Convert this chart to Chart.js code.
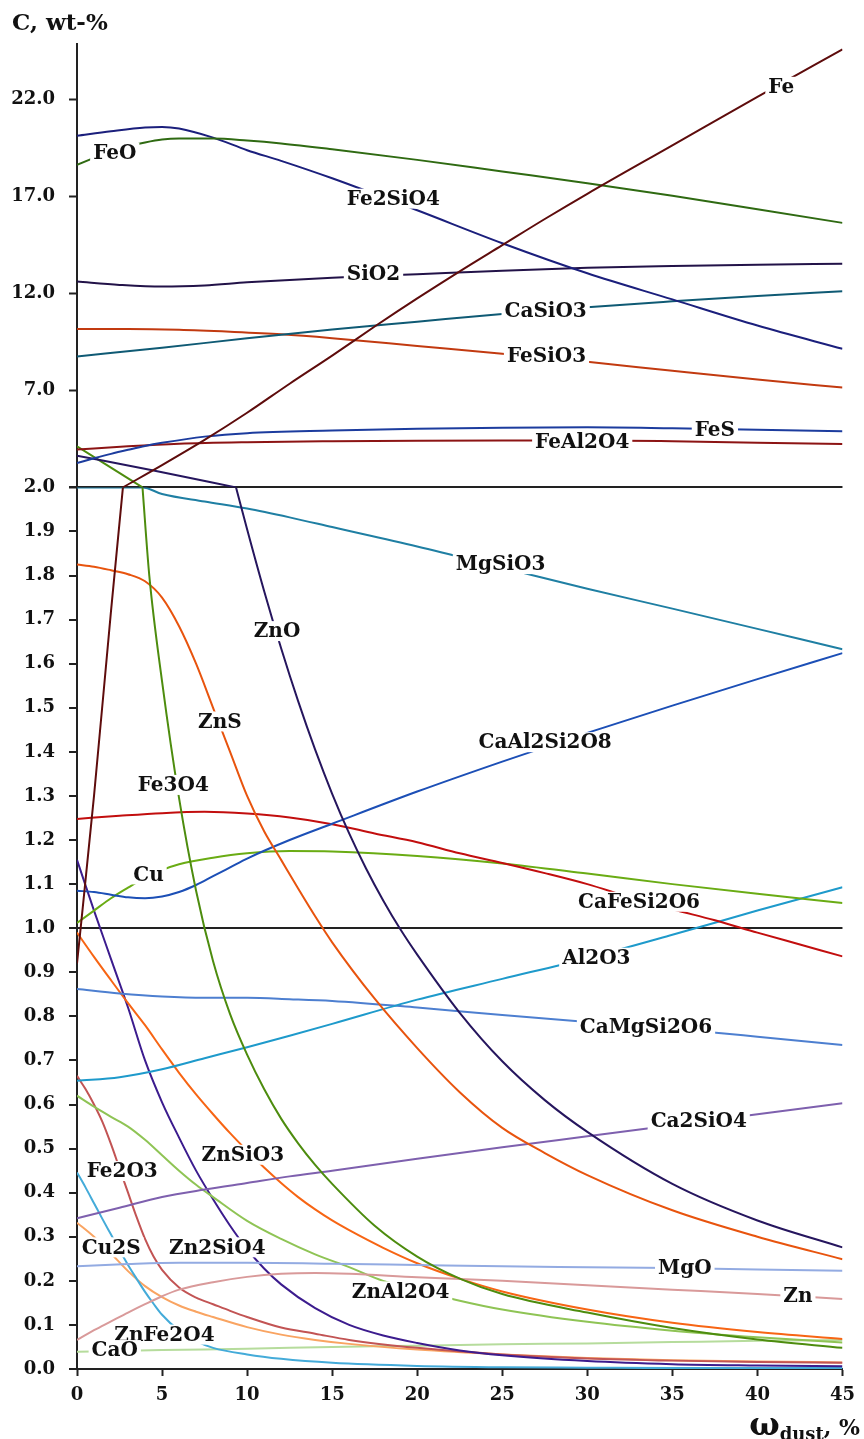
<!DOCTYPE html>
<html>
<head>
<meta charset="utf-8">
<script src="https://cdn.jsdelivr.net/npm/chart.js@4/dist/chart.umd.min.js"></script>
<style>
  html, body { margin: 0; padding: 0; background: #fff; }
</style>
</head>
<body>
<canvas id="chart" width="864" height="1439"></canvas>
<script>
const FONT = '"DejaVu Serif", "Liberation Serif", serif';
const INK = '#111';

// points are [omega_dust %, C wt-%]; above 2.0 goes to the compressed upper panel
const Fe = [[0, 0.92], [1, 1.3], [2, 1.72], [2.7, 2.0], [5, 3.15], [7.5, 4.45], [10, 5.85], [12.5, 7.35], [15, 8.8], [17.5, 10.3], [20, 11.75], [22.5, 13.15], [25, 14.5], [27.5, 15.85], [30, 17.15], [35, 19.65], [40, 22.15], [45, 24.6]];
const FeO = [[0, 18.65], [1, 19.0], [2, 19.35], [3, 19.6], [4, 19.8], [5, 19.95], [6, 20.0], [8, 20.0], [10, 19.9], [12, 19.75], [15, 19.45], [20, 18.9], [25, 18.3], [30, 17.7], [35, 17.05], [40, 16.35], [45, 15.65]];
const Fe2SiO4 = [[0, 20.15], [2, 20.38], [4, 20.57], [5, 20.6], [6, 20.52], [8, 20.05], [10, 19.4], [12, 18.85], [15, 17.95], [20, 16.3], [25, 14.6], [30, 13.05], [35, 11.7], [40, 10.35], [45, 9.15]];
const SiO2 = [[0, 12.62], [2.5, 12.45], [5, 12.36], [7.5, 12.42], [10, 12.58], [12.5, 12.7], [15, 12.82], [20, 13.0], [25, 13.18], [30, 13.33], [35, 13.42], [40, 13.49], [45, 13.54]];
const CaSiO3 = [[0, 8.76], [5, 9.2], [10, 9.7], [15, 10.15], [20, 10.55], [25, 10.95], [30, 11.3], [35, 11.6], [40, 11.88], [45, 12.12]];
const FeSiO3 = [[0, 10.17], [3, 10.17], [6, 10.13], [9, 10.03], [12, 9.9], [15, 9.7], [20, 9.3], [25, 8.9], [30, 8.48], [35, 8.02], [40, 7.57], [45, 7.15]];
const FeS = [[0, 3.26], [1, 3.5], [2, 3.73], [3, 3.94], [4, 4.14], [5, 4.3], [7.5, 4.62], [10, 4.8], [15, 4.93], [20, 5.02], [25, 5.08], [30, 5.1], [35, 5.05], [40, 4.98], [45, 4.9]];
const FeAl2O4 = [[0, 3.95], [3, 4.12], [6, 4.25], [10, 4.33], [15, 4.38], [20, 4.41], [25, 4.42], [30, 4.42], [35, 4.38], [40, 4.31], [45, 4.24]];
const ZnO = [[0, 3.64], [4.5, 2.87], [9.35, 2.0], [10, 1.905], [11, 1.765], [12, 1.635], [13, 1.515], [14, 1.405], [15, 1.305], [16, 1.215], [17, 1.135], [18, 1.063], [19, 0.998], [20, 0.94], [22.5, 0.808], [25, 0.698], [27.5, 0.61], [30, 0.538], [35, 0.42], [40, 0.337], [45, 0.276]];
const Fe3O4 = [[0, 4.12], [3.85, 2.0], [4.25, 1.8], [5, 1.56], [6, 1.295], [7, 1.085], [8, 0.925], [9, 0.805], [10, 0.713], [11, 0.635], [12, 0.568], [13, 0.512], [14, 0.463], [15, 0.42], [17.5, 0.325], [20, 0.255], [22.5, 0.205], [25, 0.17], [30, 0.128], [35, 0.093], [40, 0.067], [45, 0.048]];
const MgSiO3 = [[0, 2.0], [3.85, 2.0], [5, 1.985], [7.5, 1.968], [10, 1.952], [12.5, 1.932], [15, 1.91], [20, 1.866], [25, 1.818], [30, 1.77], [35, 1.725], [40, 1.679], [45, 1.633]];
const ZnS = [[0, 1.825], [1, 1.82], [2, 1.812], [3, 1.803], [4, 1.787], [5, 1.75], [6, 1.685], [7, 1.6], [8, 1.5], [9, 1.4], [10, 1.3], [11, 1.22], [12, 1.155], [13, 1.09], [14, 1.027], [15, 0.968], [17.5, 0.84], [20, 0.728], [22.5, 0.628], [25, 0.547], [27.5, 0.49], [30, 0.44], [35, 0.36], [40, 0.3], [45, 0.249]];
const CaAl2Si2O8 = [[0, 1.085], [1, 1.082], [2, 1.076], [3, 1.07], [4, 1.068], [5, 1.072], [6, 1.082], [7, 1.098], [8, 1.118], [9, 1.138], [10, 1.158], [12.5, 1.2], [15, 1.237], [20, 1.31], [25, 1.378], [30, 1.443], [35, 1.505], [40, 1.565], [45, 1.624]];
const CaFeSi2O6 = [[0, 1.248], [2.5, 1.255], [5, 1.261], [7.5, 1.264], [10, 1.26], [12.5, 1.251], [15, 1.236], [17.5, 1.215], [20, 1.195], [22.5, 1.17], [25, 1.148], [27.5, 1.125], [30, 1.1], [32.5, 1.07], [35, 1.043], [37.5, 1.018], [40, 0.99], [42.5, 0.963], [45, 0.936]];
const Cu = [[0, 1.012], [1, 1.04], [2, 1.068], [3, 1.092], [4, 1.115], [5, 1.132], [6, 1.145], [8, 1.16], [10, 1.17], [12.5, 1.175], [15, 1.174], [20, 1.164], [25, 1.147], [30, 1.124], [35, 1.1], [40, 1.078], [45, 1.057]];
const Al2O3 = [[0, 0.654], [2.5, 0.662], [5, 0.68], [7.5, 0.705], [10, 0.73], [12.5, 0.756], [15, 0.783], [20, 0.838], [25, 0.885], [30, 0.932], [35, 0.985], [40, 1.04], [45, 1.093]];
const CaMgSi2O6 = [[0, 0.862], [2.5, 0.852], [5, 0.845], [7.5, 0.842], [10, 0.842], [12.5, 0.839], [15, 0.835], [20, 0.82], [25, 0.803], [30, 0.787], [35, 0.772], [40, 0.754], [45, 0.735]];
const Ca2SiO4 = [[0, 0.342], [2.5, 0.366], [5, 0.39], [7.5, 0.407], [10, 0.422], [12.5, 0.437], [15, 0.45], [20, 0.477], [25, 0.503], [30, 0.528], [35, 0.553], [40, 0.578], [45, 0.603]];
const MgO = [[0, 0.233], [3, 0.238], [6, 0.241], [10, 0.241], [15, 0.239], [20, 0.236], [25, 0.233], [30, 0.231], [35, 0.229], [40, 0.226], [45, 0.223]];
const Zn = [[0, 0.066], [1, 0.088], [2, 0.108], [3, 0.128], [4, 0.147], [5, 0.165], [6, 0.18], [8, 0.197], [10, 0.209], [12, 0.216], [14, 0.218], [16, 0.216], [20, 0.208], [25, 0.2], [30, 0.19], [35, 0.18], [40, 0.17], [45, 0.159]];
const ZnAl2O4 = [[0, 0.62], [1, 0.595], [2, 0.572], [3, 0.55], [4, 0.52], [5, 0.485], [6, 0.45], [7, 0.418], [8, 0.39], [10, 0.336], [12, 0.295], [14, 0.26], [16, 0.231], [18, 0.2], [20, 0.18], [22.5, 0.155], [25, 0.135], [30, 0.107], [35, 0.087], [40, 0.072], [45, 0.06]];
const ZnSiO3 = [[0, 0.99], [1, 0.935], [2, 0.882], [3, 0.83], [4, 0.78], [5, 0.725], [6, 0.672], [7, 0.623], [8, 0.578], [9, 0.535], [10, 0.495], [11, 0.457], [12, 0.422], [13, 0.39], [14, 0.362], [15, 0.337], [16, 0.315], [18, 0.275], [20, 0.24], [22.5, 0.205], [25, 0.176], [30, 0.135], [35, 0.105], [40, 0.084], [45, 0.068]];
const Zn2SiO4 = [[0, 1.155], [1, 1.04], [2, 0.93], [3, 0.82], [4, 0.7], [5, 0.605], [6, 0.525], [7, 0.45], [8, 0.385], [9, 0.325], [10, 0.272], [11, 0.228], [12, 0.192], [14, 0.138], [16, 0.1], [18, 0.076], [20, 0.059], [22.5, 0.042], [25, 0.031], [30, 0.018], [35, 0.011], [40, 0.008], [45, 0.006]];
const Fe2O3 = [[0, 0.665], [0.5, 0.635], [1, 0.6], [1.5, 0.56], [2, 0.51], [2.5, 0.455], [3, 0.4], [3.5, 0.345], [4, 0.295], [4.5, 0.255], [5, 0.225], [6, 0.185], [7, 0.162], [8, 0.147], [9, 0.132], [10, 0.118], [12, 0.094], [14, 0.08], [16, 0.066], [20, 0.048], [25, 0.033], [30, 0.024], [35, 0.019], [40, 0.016], [45, 0.014]];
const Cu2S = [[0, 0.446], [0.5, 0.412], [1, 0.376], [1.5, 0.34], [2, 0.305], [2.5, 0.27], [3, 0.236], [3.5, 0.205], [4, 0.175], [4.5, 0.148], [5, 0.123], [6, 0.087], [7, 0.063], [8, 0.048], [10, 0.033], [12, 0.023], [15, 0.014], [20, 0.007], [25, 0.004], [30, 0.003], [35, 0.002], [40, 0.002], [45, 0.002]];
const ZnFe2O4 = [[0, 0.332], [1, 0.3], [2, 0.262], [3, 0.222], [4, 0.188], [5, 0.163], [6, 0.144], [7, 0.13], [8, 0.118], [10, 0.095], [12, 0.078], [14, 0.066], [16, 0.057], [20, 0.044], [25, 0.033], [30, 0.025], [35, 0.02], [40, 0.017], [45, 0.015]];
const CaO = [[0, 0.039], [5, 0.043], [10, 0.046], [15, 0.05], [20, 0.053], [25, 0.056], [30, 0.058], [35, 0.061], [40, 0.064], [45, 0.066]];

const xTicksStep = 5;
const lowerStep = 0.1;
const upperTicks = [2, 7, 12, 17, 22];
const BREAK = 2;

const series = [
  ['Fe', Fe, '#5e0c0c'],
  ['FeO', FeO, '#2f6a12'],
  ['Fe2SiO4', Fe2SiO4, '#1b1f7c'],
  ['SiO2', SiO2, '#221248'],
  ['CaSiO3', CaSiO3, '#0f5a74'],
  ['FeSiO3', FeSiO3, '#c23a10'],
  ['FeS', FeS, '#1c3c9e'],
  ['FeAl2O4', FeAl2O4, '#8c1414'],
  ['ZnO', ZnO, '#26165e'],
  ['Fe3O4', Fe3O4, '#4d8c0e'],
  ['MgSiO3', MgSiO3, '#1f7fa3'],
  ['ZnS', ZnS, '#e8540e'],
  ['CaAl2Si2O8', CaAl2Si2O8, '#1c4fb6'],
  ['CaFeSi2O6', CaFeSi2O6, '#c20e0e'],
  ['Cu', Cu, '#6aac14'],
  ['Al2O3', Al2O3, '#1e9acb'],
  ['CaMgSi2O6', CaMgSi2O6, '#4d7fd0'],
  ['Ca2SiO4', Ca2SiO4, '#7e60ae'],
  ['MgO', MgO, '#93abe2'],
  ['Zn', Zn, '#d99a9a'],
  ['ZnAl2O4', ZnAl2O4, '#8fc455'],
  ['ZnSiO3', ZnSiO3, '#f76514'],
  ['Zn2SiO4', Zn2SiO4, '#3c1c8e'],
  ['Fe2O3', Fe2O3, '#c25454'],
  ['Cu2S', Cu2S, '#44abd9'],
  ['ZnFe2O4', ZnFe2O4, '#f9a462'],
  ['CaO', CaO, '#b6dc9c'],
];

// where each name sits, in data units
const labelSpots = [
  ['FeO', 2.22, 19.28], ['Fe2SiO4', 18.6, 16.9], ['SiO2', 17.43, 13.01],
  ['CaSiO3', 27.55, 11.12], ['FeSiO3', 27.6, 8.79], ['Fe', 41.4, 22.67],
  ['FeS', 37.5, 4.98], ['FeAl2O4', 29.7, 4.33],
  ['MgSiO3', 24.9, 1.826], ['ZnO', 11.76, 1.674], ['ZnS', 8.4, 1.469],
  ['CaAl2Si2O8', 27.52, 1.422], ['Fe3O4', 5.66, 1.325], ['Cu', 4.2, 1.122],
  ['CaFeSi2O6', 33.04, 1.06], ['Al2O3', 30.53, 0.933], ['CaMgSi2O6', 33.45, 0.777],
  ['Ca2SiO4', 36.55, 0.562], ['ZnSiO3', 9.75, 0.486], ['Fe2O3', 2.66, 0.449],
  ['Cu2S', 2.01, 0.276], ['Zn2SiO4', 8.25, 0.276], ['MgO', 35.73, 0.229],
  ['Zn', 42.38, 0.167], ['ZnAl2O4', 19.02, 0.176], ['ZnFe2O4', 5.14, 0.078],
  ['CaO', 2.22, 0.043],
];

const datasets = [];
series.forEach(([name, pts, color]) => {
  const ys = pts.map(p => p[1]);
  const common = {
    borderColor: color,
    borderWidth: 2,
    pointRadius: 0,
    fill: false,
    cubicInterpolationMode: 'monotone',
  };
  if (Math.max(...ys) > BREAK) {
    datasets.push({ ...common, label: name, yAxisID: 'y2', data: pts.filter(p => p[1] >= BREAK) });
  }
  if (Math.min(...ys) < BREAK) {
    datasets.push({ ...common, label: name, yAxisID: 'y', data: pts.filter(p => p[1] <= BREAK) });
  }
});

const tickFont = { family: FONT, size: 18, weight: 'bold' };
const near = (a, b) => Math.abs(a - b) < 1e-6;

const inlineLabels = {
  id: 'inlineLabels',
  afterDatasetsDraw(chart) {
    const ctx = chart.ctx;
    const { x, y, y2 } = chart.scales;
    ctx.save();
    ctx.font = 'bold 20px ' + FONT;
    ctx.textAlign = 'center';
    ctx.textBaseline = 'middle';
    labelSpots.forEach(([text, wx, wy]) => {
      const px = x.getPixelForValue(wx);
      const py = wy > BREAK ? y2.getPixelForValue(wy) : y.getPixelForValue(wy);
      const w = ctx.measureText(text).width;
      ctx.fillStyle = '#fff';
      ctx.fillRect(px - w / 2 - 3, py - 10, w + 6, 20);
      ctx.fillStyle = INK;
      ctx.fillText(text, px, py + 1);
    });
    ctx.restore();
  },
};

// x title with a subscript, right aligned under the axis
const xTitle = {
  id: 'xTitle',
  afterDraw(chart) {
    const ctx = chart.ctx;
    const parts = [
      ['ω', 'bold 32px ' + FONT, 0],
      ['dust', 'bold 18px ' + FONT, 5],
      [', %', 'bold 22px ' + FONT, 0],
    ];
    ctx.save();
    ctx.fillStyle = INK;
    ctx.textBaseline = 'alphabetic';
    let total = 0;
    parts.forEach(p => { ctx.font = p[1]; total += ctx.measureText(p[0]).width; });
    let cx = chart.width - 4 - total;
    const base = 1435;
    parts.forEach(([t, f, dy]) => {
      ctx.font = f;
      ctx.fillText(t, cx, base + dy);
      cx += ctx.measureText(t).width;
    });
    ctx.restore();
  },
};

new Chart(document.getElementById('chart').getContext('2d'), {
  type: 'line',
  data: { datasets },
  plugins: [inlineLabels, xTitle],
  options: {
    responsive: false,
    animation: false,
    events: [],
    layout: { padding: { left: 12, right: 16, top: 6, bottom: 0 } },
    plugins: {
      legend: { display: false },
      tooltip: { enabled: false },
      title: {
        display: true,
        text: 'C, wt-%',
        align: 'start',
        color: INK,
        font: { family: FONT, size: 23, weight: 'bold' },
        padding: { top: 4, bottom: 6 },
      },
    },
    scales: {
      x: {
        type: 'linear',
        min: 0,
        max: 45,
        ticks: { stepSize: xTicksStep, color: INK, font: tickFont, padding: 9, maxRotation: 0 },
        grid: { drawOnChartArea: false, tickLength: 7, tickColor: '#222', tickWidth: 2 },
        border: { color: '#222', width: 2 },
        afterFit: s => { s.height = 70; },
      },
      y: {
        type: 'linear',
        position: 'left',
        stack: 'c',
        stackWeight: 882,
        min: 0,
        max: BREAK,
        ticks: {
          stepSize: lowerStep,
          autoSkip: false,
          padding: 14,
          color: INK,
          font: tickFont,
          callback: v => (v > BREAK - 0.01 ? '' : v.toFixed(1)),
        },
        grid: {
          color: c => (c.tick && (near(c.tick.value, 1) || near(c.tick.value, BREAK)) ? '#222' : 'rgba(0,0,0,0)'),
          lineWidth: 2,
          tickLength: 8,
          tickColor: '#222',
          tickWidth: 2,
        },
        border: { color: '#222', width: 2 },
        afterFit: s => { s.width = 65; },
      },
      y2: {
        type: 'linear',
        position: 'left',
        stack: 'c',
        stackWeight: 444,
        min: BREAK,
        max: 24.9,
        afterBuildTicks: s => { s.ticks = upperTicks.map(v => ({ value: v })); },
        ticks: { autoSkip: false, padding: 14, color: INK, font: tickFont, callback: v => v.toFixed(1) },
        grid: { drawOnChartArea: false, tickLength: 8, tickColor: '#222', tickWidth: 2 },
        border: { color: '#222', width: 2 },
        afterFit: s => { s.width = 65; },
      },
    },
  },
});
</script>
</body>
</html>
